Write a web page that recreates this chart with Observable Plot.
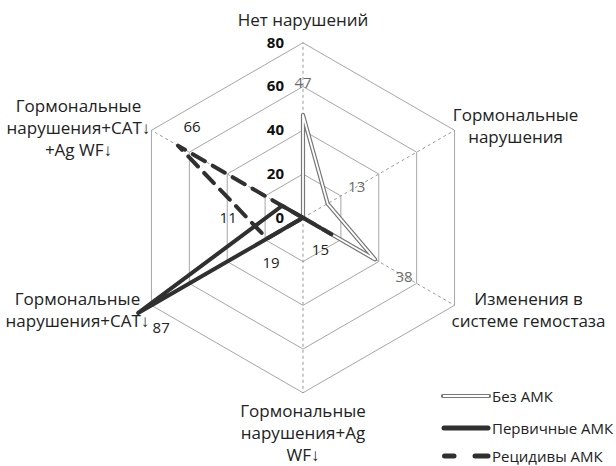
<!DOCTYPE html>
<html><head><meta charset="utf-8">
<script src="https://cdn.jsdelivr.net/npm/d3@7"></script>
<script src="https://cdn.jsdelivr.net/npm/@observablehq/plot@0.6"></script>
<style>
body{margin:0;background:#fff;font-family:"Open Sans",sans-serif;}
#wrap{position:relative;width:616px;height:466px;overflow:hidden;}
.li{position:absolute;left:441px;display:flex;align-items:center;height:20px;font-size:15px;color:#222;white-space:nowrap;}
.li svg{margin-right:1px;}
</style></head><body><div id="wrap"></div>
<script>
const categories = [
  "Нет нарушений",
  "Гормональные\nнарушения",
  "Изменения в\nсистеме гемостаза",
  "Гормональные\nнарушения+Ag\nWF↓",
  "Гормональные\nнарушения+CAT↓",
  "Гормональные\nнарушения+CAT↓\n+Ag WF↓"
];
const seriesNames = ["Без АМК", "Первичные АМК", "Рецидивы АМК"];
const bezAMK = [47, 13, 38, 0, 0, 0];
const pervichnye = [0, 0, 0, 0, 87, 11];
const recidivy = [0, 0, 15, 0, 19, 66];
const ticks = [0, 20, 40, 60, 80];

// geometry (pixels per unit, centre)
const K = 175 / 80;
const CX = 302.5, CY = 217.3;
const X0 = -CX / K, X1 = X0 + 616 / K;
const YT = CY / K, YB = YT - 466 / K;
const ang = i => i * Math.PI / 3;
const px = (i, r) => r * Math.sin(ang(i));
const py = (i, r) => r * Math.cos(ang(i));

const poly = vals => [...vals, vals[0]].map((v, j) => ({x: px(j % 6, v), y: py(j % 6, v)}));
const gridRows = ticks.filter(t => t > 0).flatMap(t => d3.range(7).map(j => ({ring: t, x: px(j % 6, t), y: py(j % 6, t)})));
const spokes = categories.map((c, i) => ({x2: px(i, 80), y2: py(i, 80)}));

// category label offsets (px) from the outer vertex
const catOff = [[0, -24], [61, -5], [74, 4], [0, 39], [-74, 4], [-73, -3]];
const catRows = categories.map((c, i) => ({c, x: px(i, 80) + catOff[i][0] / K, y: py(i, 80) - catOff[i][1] / K}));

// data label offsets (px)
const labOff = {
  0: {0: [0, -32], 1: [29, -16], 2: [29, 18]},
  1: {4: [23, 15], 5: [-54, 12]},
  2: {2: [-11, 16], 4: [4, 25], 5: [14, -18]}
};
const allSeries = [bezAMK, pervichnye, recidivy];
const labRows = [];
allSeries.forEach((vals, s) => {
  vals.forEach((v, i) => {
    if (v > 0) {
      const o = labOff[s][i] || [0, -12];
      labRows.push({s, v, x: px(i, v) + o[0] / K, y: py(i, v) - o[1] / K});
    }
  });
});

const chart = Plot.plot({
  width: 616, height: 466, margin: 0,
  x: {domain: [X0, X1], axis: null},
  y: {domain: [YB, YT], axis: null},
  style: {fontFamily: "'Open Sans', sans-serif", background: "#fff"},
  marks: [
    Plot.line(gridRows, {x: "x", y: "y", z: "ring", stroke: "#a6a6a6", strokeWidth: 1}),
    Plot.link(spokes, {x1: 0, y1: 0, x2: "x2", y2: "y2", stroke: "#8c8c8c", strokeWidth: 0.9, strokeDasharray: "3,3"}),
    Plot.line(poly(bezAMK), {x: "x", y: "y", stroke: "#777", strokeWidth: 4.2, strokeLinejoin: "round"}),
    Plot.line(poly(bezAMK), {x: "x", y: "y", stroke: "#fff", strokeWidth: 1.8, strokeLinejoin: "round"}),
    Plot.line(poly(pervichnye), {x: "x", y: "y", stroke: "#303030", strokeWidth: 4, strokeLinejoin: "round"}),
    Plot.line(poly(recidivy), {x: "x", y: "y", stroke: "#303030", strokeWidth: 4, strokeDasharray: "14,9", strokeLinejoin: "round"}),
    Plot.text(ticks, {x: 0, y: d => d, text: d => String(d), textAnchor: "end", dx: -19, fontSize: 15, fontWeight: "bold", fill: "#111"}),
    Plot.text(labRows, {x: "x", y: "y", text: d => String(d.v), fontSize: 15, fill: d => d.s === 0 ? "#6b6b6b" : "#222"}),
    Plot.text(catRows, {x: "x", y: "y", text: "c", fontSize: 17, lineHeight: 1.3, fill: "#222"})
  ]
});
document.getElementById("wrap").prepend(chart);

// legend
const sw = [
  '<svg width="50" height="10"><line x1="2" y1="5" x2="48" y2="5" stroke="#777" stroke-width="4.2" stroke-linecap="round"/><line x1="2" y1="5" x2="48" y2="5" stroke="#fff" stroke-width="1.8"/></svg>',
  '<svg width="50" height="10"><line x1="3" y1="5" x2="47" y2="5" stroke="#303030" stroke-width="5" stroke-linecap="round"/></svg>',
  '<svg width="50" height="10"><line x1="3.5" y1="5" x2="13" y2="5" stroke="#303030" stroke-width="5" stroke-linecap="round"/><line x1="34" y1="5" x2="47" y2="5" stroke="#303030" stroke-width="5" stroke-linecap="round"/></svg>'
];
const legendY = [396, 428, 456];
document.getElementById("wrap").insertAdjacentHTML("beforeend",
  seriesNames.map((n, i) => `<div class="li" style="top:${legendY[i] - 10}px">${sw[i]}<span>${n}</span></div>`).join(""));
</script>
</body></html>
